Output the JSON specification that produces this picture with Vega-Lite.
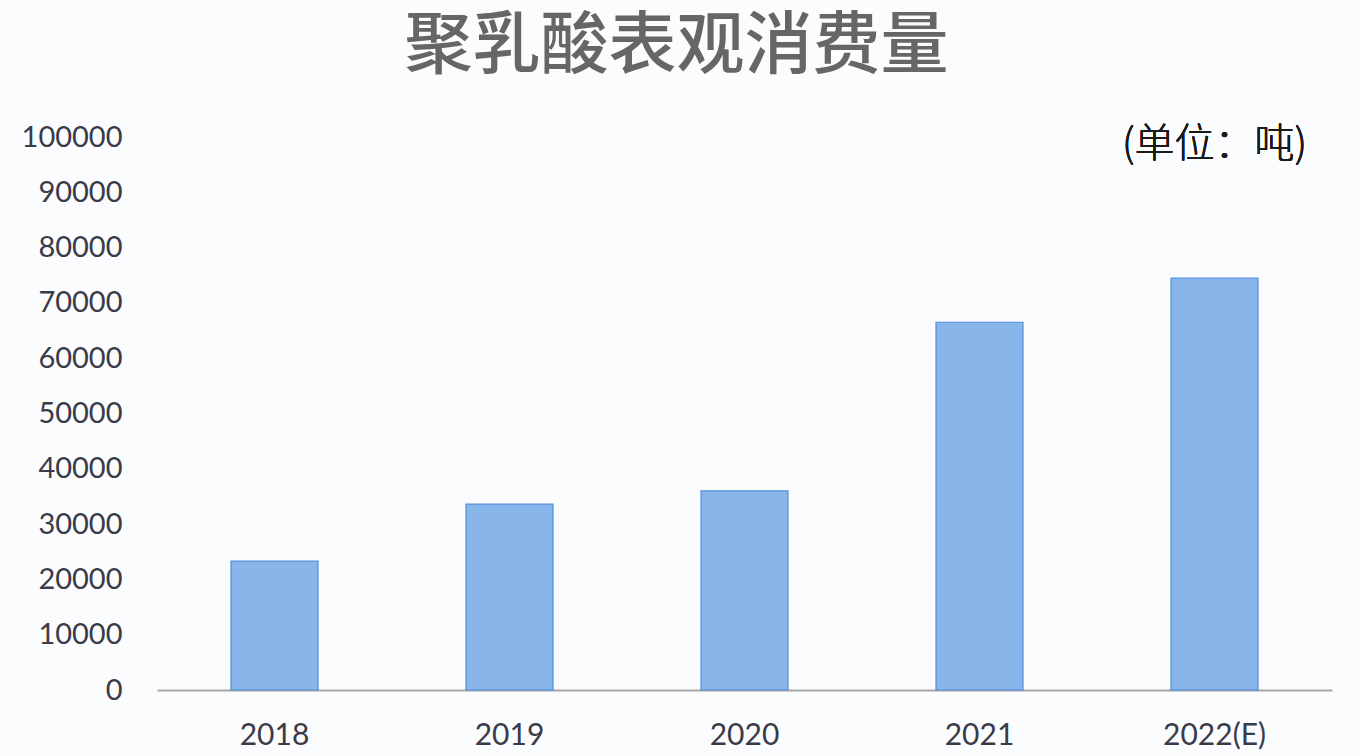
{
  "$schema": "https://vega.github.io/schema/vega-lite/v6.json",
  "autosize": "none",
  "width": 1175,
  "height": 553,
  "padding": {"left": 157, "top": 137, "right": 28, "bottom": 66},
  "background": "#fafcfe",
  "title": {
    "text": "聚乳酸表观消费量",
    "font": "Noto Sans CJK SC",
    "fontSize": 68,
    "fontWeight": 500,
    "color": "#666666",
    "anchor": "middle",
    "frame": "bounds",
    "offset": 41
  },
  "data": {
    "values": [
      {"year": "2018", "amount": 23300},
      {"year": "2019", "amount": 33600},
      {"year": "2020", "amount": 36000},
      {"year": "2021", "amount": 66500},
      {"year": "2022(E)", "amount": 74500}
    ]
  },
  "config": {"view": {"stroke": null}},
  "layer": [
    {
      "mark": {"type": "bar", "fill": "#88b6ea", "stroke": "#4f8dd9", "strokeWidth": 1.2},
      "encoding": {
        "x": {
          "field": "year",
          "type": "nominal",
          "sort": null,
          "scale": {"paddingInner": 0.63, "paddingOuter": 0.315},
          "axis": {
            "title": null,
            "labelAngle": 0,
            "ticks": false,
            "domainColor": "#a6a6a6",
            "domainWidth": 2,
            "labelFont": "Lato",
            "labelFontSize": 30,
            "labelColor": "#3a3a48",
            "labelPadding": 30
          }
        },
        "y": {
          "field": "amount",
          "type": "quantitative",
          "scale": {"domain": [0, 100000], "nice": false},
          "axis": {
            "title": null,
            "values": [0, 10000, 20000, 30000, 40000, 50000, 60000, 70000, 80000, 90000, 100000],
            "format": "d",
            "grid": false,
            "domain": false,
            "ticks": false,
            "labelFont": "Lato",
            "labelFontSize": 29,
            "labelColor": "#3a3a48",
            "labelPadding": 35
          }
        }
      }
    },
    {
      "mark": {"type": "text", "text": "(单位：吨)", "font": "Noto Sans CJK SC", "fontWeight": 300, "fontSize": 40, "letterSpacing": 4, "color": "#1a1a1a", "align": "center", "baseline": "middle"},
      "encoding": {
        "x": {"datum": "2022(E)", "type": "nominal"},
        "y": {"datum": 98600, "type": "quantitative"}
      }
    }
  ]
}
